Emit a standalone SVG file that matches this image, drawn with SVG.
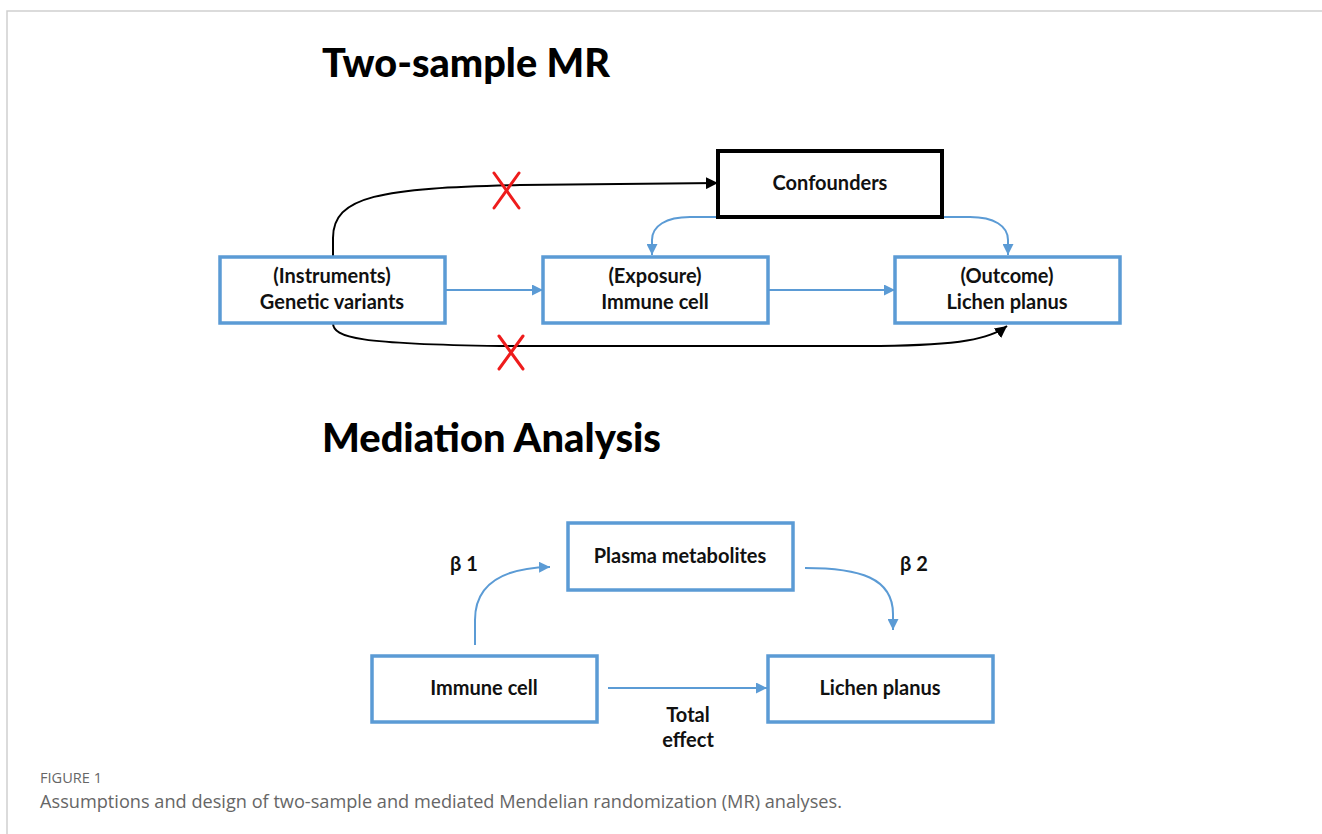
<svg xmlns="http://www.w3.org/2000/svg" width="1322" height="834" viewBox="0 0 1322 834">
<style>
.bg{fill:#fff}
.frame{fill:none;stroke:#cfcfcf;stroke-width:1.5}
.title{font-family:Lato,"Liberation Sans",sans-serif;font-weight:900;font-size:40px;fill:#000}
.lbl{font-family:Lato,"Liberation Sans",sans-serif;font-weight:bold;font-size:20px;fill:#111;text-anchor:middle}
.bbox{fill:#fff;stroke:#5b9bd5;stroke-width:3.5}
.kbox{fill:#fff;stroke:#000;stroke-width:4}
.blue{fill:none;stroke:#5b9bd5;stroke-width:2;marker-end:url(#ab)}
.black{fill:none;stroke:#000;stroke-width:2;marker-end:url(#ak)}
.x{stroke:#ee1c1c;stroke-width:3;stroke-linecap:round}
.cap1{font-family:"Open Sans","Liberation Sans",sans-serif;font-size:14px;fill:#666}
.cap2{font-family:"Open Sans","Liberation Sans",sans-serif;font-size:18px;fill:#666}
</style>
<defs>
<marker id="ab" viewBox="0 0 10 10" refX="10" refY="5" markerWidth="5.5" markerHeight="5.5" markerUnits="strokeWidth" orient="auto"><path d="M0,0 L10,5 L0,10 z" fill="#5b9bd5"/></marker>
<marker id="ak" viewBox="0 0 10 10" refX="10" refY="5" markerWidth="6" markerHeight="6" markerUnits="strokeWidth" orient="auto"><path d="M0,0 L10,5 L0,10 z" fill="#000"/></marker>
</defs>
<rect class="bg" x="0" y="0" width="1322" height="834"/>
<path class="frame" d="M7,834 L7,11 L1322,11"/>

<text class="title" x="322" y="77" textLength="288" lengthAdjust="spacingAndGlyphs">Two-sample MR</text>
<text class="title" x="322" y="452" textLength="339" lengthAdjust="spacingAndGlyphs">Mediation Analysis</text>

<g id="connectors">
<path class="black" d="M333,257 L333,238 C333,196 380,188 520,185 L718,183"/>
<path class="black" d="M333,323 C333,338 360,344 500,346 L880,346 C960,345 990,339 1007,326"/>
<path class="blue" d="M445,290 L543,290"/>
<path class="blue" d="M768,290 L895,290"/>
<path class="blue" d="M718,217 L690,217 C666,217 652,226 652,240 L652,255"/>
<path class="blue" d="M942,217 L970,217 C994,217 1008,226 1008,240 L1008,255"/>
<path class="blue" d="M475,645 L475,620 C475,586 500,568 550,567"/>
<path class="blue" d="M805,568 C860,568 893,578 893,614 L893,630"/>
<path class="blue" d="M608,688 L767,688"/>
<line class="x" x1="494" y1="173" x2="519" y2="208"/>
<line class="x" x1="519" y1="173" x2="494" y2="208"/>
<line class="x" x1="499" y1="336" x2="523" y2="369"/>
<line class="x" x1="523" y1="336" x2="499" y2="369"/>
</g>

<g id="confounders">
<rect class="kbox" x="718" y="151" width="224" height="66"/>
<text class="lbl" x="830" y="190">Confounders</text>
</g>
<g id="instruments">
<rect class="bbox" x="220" y="257" width="225" height="66"/>
<text class="lbl" x="332" y="283">(Instruments)</text>
<text class="lbl" x="332" y="309">Genetic variants</text>
</g>
<g id="exposure">
<rect class="bbox" x="543" y="257" width="225" height="66"/>
<text class="lbl" x="655" y="283">(Exposure)</text>
<text class="lbl" x="655" y="309">Immune cell</text>
</g>
<g id="outcome">
<rect class="bbox" x="895" y="257" width="225" height="66"/>
<text class="lbl" x="1007" y="283">(Outcome)</text>
<text class="lbl" x="1007" y="309">Lichen planus</text>
</g>
<g id="plasma">
<rect class="bbox" x="568" y="523" width="225" height="67"/>
<text class="lbl" x="680" y="563">Plasma metabolites</text>
</g>
<g id="immune">
<rect class="bbox" x="372" y="656" width="225" height="66"/>
<text class="lbl" x="484" y="695">Immune cell</text>
</g>
<g id="lichen">
<rect class="bbox" x="768" y="656" width="225" height="66"/>
<text class="lbl" x="880" y="695">Lichen planus</text>
</g>
<g id="labels">
<text class="lbl" x="464" y="571">β 1</text>
<text class="lbl" x="914" y="571">β 2</text>
<text class="lbl" x="688" y="722">Total</text>
<text class="lbl" x="688" y="747">effect</text>
</g>

<text class="cap1" x="40" y="783" textLength="62" lengthAdjust="spacingAndGlyphs">FIGURE 1</text>
<text class="cap2" x="40" y="808" textLength="802" lengthAdjust="spacingAndGlyphs">Assumptions and design of two-sample and mediated Mendelian randomization (MR) analyses.</text>
</svg>
